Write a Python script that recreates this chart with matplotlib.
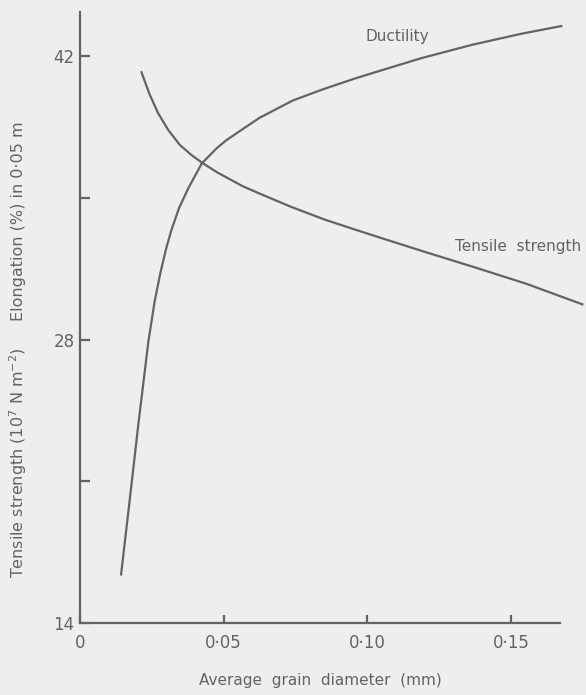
import matplotlib
matplotlib.use("Agg")
import matplotlib.pyplot as plt
from matplotlib.ticker import FixedLocator, NullFormatter

# Values
ductility_d = [0.0143, 0.0170, 0.0203, 0.0238, 0.0260, 0.0280, 0.0300, 0.0318,
               0.0345, 0.0378, 0.0424, 0.0476, 0.0510, 0.0562, 0.0625, 0.0740,
               0.0844, 0.0959, 0.1016, 0.1189, 0.1363, 0.1536, 0.1675]
ductility_elong = [16.4, 19.7, 23.8, 27.9, 29.9, 31.3, 32.5, 33.4,
                   34.5, 35.5, 36.7, 37.45, 37.85, 38.35, 38.95, 39.8,
                   40.35, 40.9, 41.15, 41.9, 42.55, 43.1, 43.48]

tensile_d = [0.0214, 0.0241, 0.0271, 0.0307, 0.0348, 0.0389, 0.0426, 0.0478,
             0.0565, 0.0618, 0.0735, 0.0852, 0.0968, 0.1062, 0.1202, 0.1377,
             0.1552, 0.1748]
tensile_strength = [41.2, 40.15, 39.2, 38.35, 37.6, 37.1, 36.72, 36.25,
                    35.58, 35.25, 34.55, 33.92, 33.38, 32.95, 32.32, 31.55,
                    30.76, 29.74]

y_major = [14, 28, 42]
y_minor = [21, 35]
x_ticks = [0, 0.05, 0.10, 0.15]
x_labels = ["0", "0·05", "0·10", "0·15"]

ink = "#636363"
paper = "#eeeeee"
plt.rcParams["font.family"] = "DejaVu Sans"
plt.rcParams["mathtext.default"] = "regular"

fig = plt.figure(figsize=(5.86, 6.95), dpi=100, facecolor=paper)
ax = fig.add_axes([0.1365, 0.1036, 0.8635, 0.879])
ax.set_facecolor(paper)

ax.plot(ductility_d, ductility_elong, color=ink, lw=1.6, solid_joinstyle="round")
ax.plot(tensile_d, tensile_strength, color=ink, lw=1.6, solid_joinstyle="round")

ax.set_xlim(0, 0.1761)
ax.set_ylim(14, 44.17)

for side in ("top", "right"):
    ax.spines[side].set_visible(False)
for side in ("left", "bottom"):
    ax.spines[side].set_color(ink)
    ax.spines[side].set_linewidth(1.6)
ax.spines["bottom"].set_bounds(0, 0.167)

ax.yaxis.set_major_locator(FixedLocator(y_major))
ax.yaxis.set_minor_locator(FixedLocator(y_minor))
ax.yaxis.set_minor_formatter(NullFormatter())
ax.set_yticklabels([str(v) for v in y_major])
ax.set_xticks(x_ticks)
ax.set_xticklabels(x_labels)

ax.tick_params(axis="both", which="both", direction="in", colors=ink,
               width=1.6, labelsize=12, labelcolor=ink)
ax.tick_params(axis="y", which="both", length=7, pad=4)
ax.tick_params(axis="x", length=6, pad=8)

ax.text(0.1106, 42.94, "Ductility", color=ink, fontsize=11,
        ha="center", va="center")
ax.text(0.1524, 32.57, "Tensile  strength", color=ink, fontsize=11,
        ha="center", va="center")

fig.text(320 / 586, 1 - 680 / 695, "Average  grain  diameter  (mm)", color=ink,
         fontsize=11, ha="center", va="center")
fig.text(0.031, 0.682, "Elongation (%) in 0·05 m", color=ink, fontsize=11.5,
         rotation=90, ha="center", va="center")
fig.text(0.031, 0.335, "Tensile strength (10$^7$ N m$^{-2}$)", color=ink,
         fontsize=11.5, rotation=90, ha="center", va="center")

fig.savefig("out.png", dpi=100, facecolor=paper)
plt.close(fig)
